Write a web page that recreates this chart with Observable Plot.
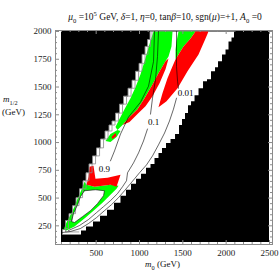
<!DOCTYPE html>
<html><head><meta charset="utf-8">
<script src="https://cdn.jsdelivr.net/npm/d3@7"></script>
<script src="https://cdn.jsdelivr.net/npm/@observablehq/plot@0.6"></script>
<style>
body{margin:0;background:#fff}
#wrap{position:relative;width:280px;height:280px;font-family:"Liberation Serif",serif;color:#111}
#wrap svg{position:absolute;left:0;top:0}
.t{position:absolute;white-space:nowrap;line-height:1;z-index:2}
sub,sup{font-size:70%;line-height:0}
</style></head><body>
<div id="wrap">
<div class="t" style="left:0;width:280px;top:13px;padding-left:50px;box-sizing:border-box;text-align:center;font-size:9.5px"><i>μ</i><sub>0</sub> =10<sup>5</sup> GeV, <i>δ</i>=1, <i>η</i>=0, tan<i>β</i>=10, sgn(<i>μ</i>)=+1, <i>A</i><sub>0</sub> =0</div>
<div class="t" style="left:3px;top:95px;font-size:9px"><i>m</i><sub>1/2</sub></div>
<div class="t" style="left:2px;top:108px;font-size:9px">(GeV)</div>
<div class="t" style="left:145px;top:260px;font-size:9px"><i>m</i><sub>0</sub> (GeV)</div>
</div>
<script>
// axes
const xDomain = [100, 2500];
const yDomain = [100, 2000];
const xTicks = [500, 1000, 1500, 2000, 2500];
const yTicks = [250, 500, 750, 1000, 1250, 1500, 1750, 2000];
const xMinor = [100,200,300,400,600,700,800,900,1100,1200,1300,1400,1600,1700,1800,1900,2100,2200,2300,2400];
const yMinor = [100,150,200,300,350,400,450,550,600,650,700,800,850,900,950,1050,1100,1150,1200,1300,1350,1400,1450,1550,1600,1650,1700,1800,1850,1900,1950];

// allowed (white) band, [m0, m1/2] in GeV
const bandLeft = [[308,172],[100,172],[123,217],[169,298],[204,360],[250,432],[285,504],[331,584],[365,656],[400,728],[435,808],[481,880],[527,952],[573,1032],[631,1104],[665,1158],[700,1194],[746,1265],[792,1346],[839,1418],[896,1489],[931,1561],[977,1642],[1012,1713],[1046,1794],[1081,1866],[1104,1928],[1139,2000]];
const bandRight = [[2108,2000],[2073,1946],[2050,1910],[2004,1839],[1981,1794],[1923,1731],[1889,1677],[1854,1642],[1796,1570],[1762,1552],[1704,1489],[1658,1427],[1612,1373],[1577,1337],[1542,1265],[1508,1212],[1473,1158],[1439,1077],[1381,1032],[1335,996],[1277,952],[1242,907],[1196,862],[1150,808],[1104,772],[1046,719],[989,674],[931,629],[873,575],[815,522],[746,459],[665,396],[585,342],[504,289],[423,244],[342,208],[308,172]];
const bandInner = [[300,195],[135,195],[158,226],[204,298],[239,360],[285,432],[320,504],[366,584],[400,656],[435,728],[470,808],[516,880],[562,952],[608,1032],[666,1104],[700,1158],[735,1194],[781,1265],[827,1346],[874,1418],[931,1489],[966,1561],[1012,1642],[1047,1713],[1081,1794],[1116,1866],[1139,1928],[1150,2000]];

// green regions
const greenA = [[1162,2000],[1381,2000],[1369,1866],[1335,1776],[1300,1731],[1219,1624],[1139,1507],[1058,1400],[977,1301],[885,1229],[804,1158],[746,1113],[723,1140],[769,1212],[827,1301],[896,1400],[954,1498],[1012,1615],[1058,1731],[1104,1857],[1139,1946]];
const greenC = [[1450,2000],[1646,2000],[1589,1937],[1508,1866],[1450,1794],[1416,1749],[1416,1839],[1427,1910]];
const greenG = [[608,1014],[665,1077],[746,1113],[781,1104],[735,1050],[665,1005]];
const greenF = [[365,647],[389,620],[481,602],[665,620],[758,611],[735,584],[665,530],[573,459],[469,387],[365,316],[250,244],[158,208],[123,217],[158,280],[204,351],[250,423],[285,495],[331,575]];
const whiteBlob = [[365,566],[492,575],[596,566],[585,522],[515,450],[435,387],[342,333],[250,280],[215,289],[238,360],[285,441],[319,513]];

// red regions
const redB = [[1300,1731],[1335,1758],[1300,1660],[1231,1534],[1150,1418],[1069,1328],[977,1256],[885,1185],[804,1158],[885,1229],[977,1301],[1058,1400],[1139,1507],[1219,1624]];
const redD = [[1646,2000],[1796,2000],[1762,1937],[1681,1794],[1554,1642],[1439,1489],[1312,1373],[1219,1319],[1265,1444],[1323,1579],[1381,1686],[1416,1749],[1450,1794],[1508,1866],[1589,1937]];
const redG = [[677,1050],[723,1086],[735,1059],[688,1032]];
const redE = [[423,781],[469,790],[492,674],[631,683],[781,710],[758,656],[735,602],[665,620],[481,602],[389,620],[412,692]];

// contour lines
const line09 = [[1173,2000],[1162,1731],[1104,1507],[1012,1364],[873,1229],[781,1077],[712,925],[665,835]];
const line01a = [[1219,2000],[1208,1776],[1185,1570],[1150,1400],[1127,1256]];
const line01b = [[1092,1122],[1046,1014],[989,907],[931,817],[862,728],[850,656],[804,602],[746,540],[665,477],[585,423],[504,369],[412,307],[308,253],[181,208]];
const line001a = [[1427,2000],[1427,1821],[1427,1686],[1439,1552],[1450,1489]];
const line001b = [[1427,1400],[1392,1301],[1346,1194],[1289,1086],[1219,979],[1150,880],[1081,799],[1000,728],[943,674],[885,620],[827,566],[758,504],[677,441],[596,387],[504,324],[412,271],[319,226],[204,199],[112,190]];
const contourLabels = ["0.9", "0.1", "0.01"];
const labelM0 = [596, 1162, 1531];
const labelM12 = [764, 1185, 1444];

const GREEN = "#00ff00", RED = "#ff0000", EDGE = "#8a8a8a";
const poly = (pts, fill) => Plot.line(pts, {x: d => d[0], y: d => d[1], fill, stroke: "none", curve: "linear-closed"});
const ln = (pts, stroke, w, curve = "linear") => Plot.line(pts, {x: d => d[0], y: d => d[1], stroke, strokeWidth: w, curve});

const frameH = 280 - 30 - 36, frameW = 280 - 55 - 8;
const chart = Plot.plot({
  width: 280, height: 280,
  marginLeft: 55, marginRight: 8, marginTop: 30, marginBottom: 36,
  x: {domain: xDomain, insetLeft: 6, insetRight: 3},
  y: {domain: yDomain, insetTop: 1, insetBottom: 2},
  style: {fontFamily: "'Liberation Serif', serif", fontSize: "9px", color: "#222", background: "transparent"},
  marks: [
    Plot.rect([{x1: xDomain[0], x2: xDomain[1], y1: yDomain[0], y2: yDomain[1]}], {x1: "x1", x2: "x2", y1: "y1", y2: "y2", fill: "black"}),
    Plot.line([...bandLeft, ...bandRight], {x: d => d[0], y: d => d[1], fill: "white", stroke: "none", curve: "step"}),
    poly(greenA, GREEN), poly(greenC, GREEN), poly(greenG, GREEN), poly(greenF, GREEN),
    poly(whiteBlob, "white"),
    poly(redB, RED), poly(redD, RED), poly(redG, RED), poly(redE, RED),
    ln(bandLeft, EDGE, 0.9, "step"),
    ln(bandInner, EDGE, 0.8, "step"),
    ln([...whiteBlob, whiteBlob[0]], "black", 0.6),
    ln(line09, "black", 0.6), ln(line01a, "black", 0.6), ln(line01b, "black", 0.6),
    ln(line001a, "black", 0.6), ln(line001b, "black", 0.6),
    Plot.text(contourLabels, {x: (d, i) => labelM0[i], y: (d, i) => labelM12[i], text: d => d, fill: "black", fontSize: 9}),
    Plot.frame({stroke: EDGE}),
    Plot.tickX(xTicks, {x: d => d, insetTop: frameH - 4, stroke: EDGE}),
    Plot.tickX(xTicks, {x: d => d, insetBottom: frameH - 4, stroke: EDGE}),
    Plot.tickX(xMinor, {x: d => d, insetTop: frameH - 2, stroke: EDGE}),
    Plot.tickX(xMinor, {x: d => d, insetBottom: frameH - 2, stroke: EDGE}),
    Plot.tickY(yTicks, {y: d => d, insetRight: frameW - 4, stroke: EDGE}),
    Plot.tickY(yTicks, {y: d => d, insetLeft: frameW - 4, stroke: EDGE}),
    Plot.tickY(yMinor, {y: d => d, insetRight: frameW - 2, stroke: EDGE}),
    Plot.tickY(yMinor, {y: d => d, insetLeft: frameW - 2, stroke: EDGE}),
    Plot.axisX({ticks: xTicks, tickSize: 0, tickPadding: 5, label: null, tickFormat: d => String(d)}),
    Plot.axisY({ticks: yTicks, tickSize: 0, tickPadding: 4, label: null, tickFormat: d => String(d)})
  ]
});
document.getElementById("wrap").prepend(chart);
</script>
</body></html>
